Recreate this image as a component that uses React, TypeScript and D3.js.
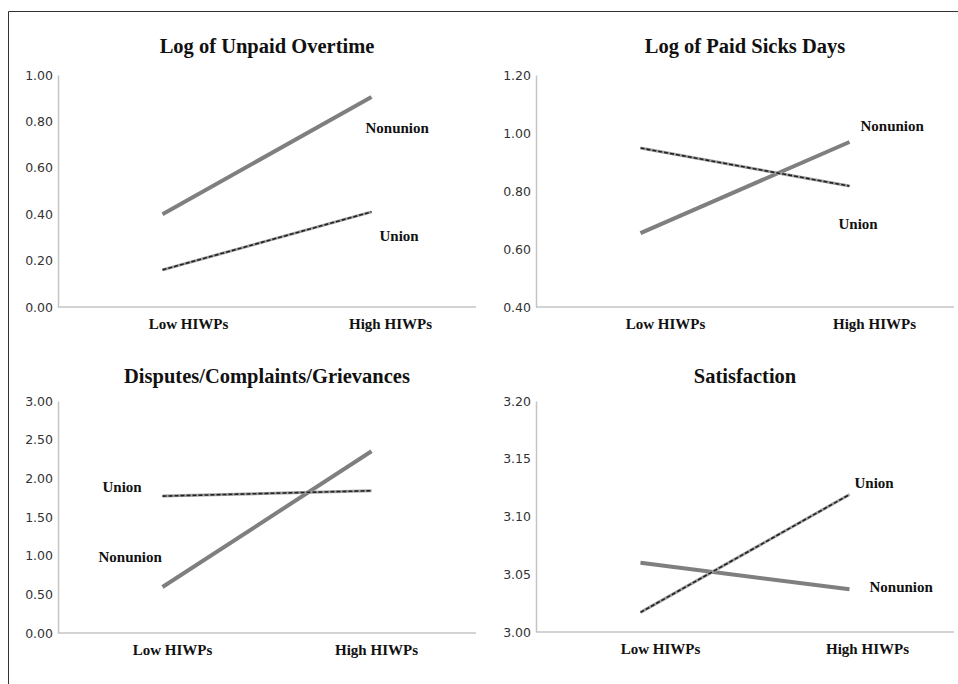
import { useRef, useEffect } from 'react';
import * as d3 from 'd3';

const categories = ['Low HIWPs', 'High HIWPs'];

// values
const unpaidNonunion = [0.4, 0.905];
const unpaidUnion = [0.16, 0.41];
const sickNonunion = [0.655, 0.969];
const sickUnion = [0.948, 0.817];
const disputeNonunion = [0.595, 2.35];
const disputeUnion = [1.77, 1.84];
const satisNonunion = [3.06, 3.037];
const satisUnion = [3.017, 3.119];

const unpaidTicks = [0, 0.2, 0.4, 0.6, 0.8, 1.0];
const sickTicks = [0.4, 0.6, 0.8, 1.0, 1.2];
const disputeTicks = [0, 0.5, 1.0, 1.5, 2.0, 2.5, 3.0];
const satisTicks = [3.0, 3.05, 3.1, 3.15, 3.2];

const titles = [
  'Log of Unpaid Overtime',
  'Log of Paid Sicks Days',
  'Disputes/Complaints/Grievances',
  'Satisfaction',
];

const panels = [
  {
    title: titles[0], nonunion: unpaidNonunion, union: unpaidUnion, ticks: unpaidTicks,
    ox: 0, oy: 0, top: 75, bottom: 307, catOff: [26, 19],
    nonLab: { i: 1, dx: -6, dy: 31 }, uniLab: { i: 1, dx: 8, dy: 24 },
  },
  {
    title: titles[1], nonunion: sickNonunion, union: sickUnion, ticks: sickTicks,
    ox: 478, oy: 0, top: 75, bottom: 307, catOff: [25, 25],
    nonLab: { i: 1, dx: 11, dy: -16 }, uniLab: { i: 1, dx: -11, dy: 38 },
  },
  {
    title: titles[2], nonunion: disputeNonunion, union: disputeUnion, ticks: disputeTicks,
    ox: 0, oy: 330, top: 71, bottom: 303, catOff: [10, 5],
    nonLab: { i: 0, dx: -64, dy: -30 }, uniLab: { i: 0, dx: -60, dy: -9 },
  },
  {
    title: titles[3], nonunion: satisNonunion, union: satisUnion, ticks: satisTicks,
    ox: 478, oy: 330, top: 71, bottom: 302, catOff: [20, 18],
    nonLab: { i: 1, dx: 20, dy: -3 }, uniLab: { i: 1, dx: 5, dy: -12 },
  },
];

const width = 958;
const height = 684;
const axisLeft = 58;
const axisRight = 476;
const serif = '"Liberation Serif", "Times New Roman", serif';
const sans = '"DejaVu Sans", Verdana, sans-serif';

const App = () => {
  const ref = useRef(null);

  useEffect(() => {
    const svg = d3.select(ref.current);
    svg.selectAll('*').remove();

    // frame (top and left edges)
    svg.append('path')
      .attr('d', `M8.5,${height} V11.5 H${width}`)
      .attr('fill', 'none')
      .attr('stroke', '#333')
      .attr('stroke-width', 1);

    panels.forEach((p) => {
      const g = svg.append('g').attr('transform', `translate(${p.ox},${p.oy})`);

      const x = d3.scalePoint().domain(categories).range([axisLeft, axisRight]).padding(0.5);
      const y = d3
        .scaleLinear()
        .domain([p.ticks[0], p.ticks[p.ticks.length - 1]])
        .range([p.bottom, p.top]);

      g.append('text')
        .text(p.title)
        .attr('x', (axisLeft + axisRight) / 2)
        .attr('y', 46)
        .attr('dy', '0.35em')
        .attr('text-anchor', 'middle')
        .attr('font-family', serif)
        .attr('font-weight', 'bold')
        .attr('font-size', 20.5)
        .attr('fill', '#111');

      // y axis
      const yAxis = g.append('g')
        .attr('transform', `translate(${axisLeft},0)`)
        .call(d3.axisLeft(y).tickValues(p.ticks).tickSize(0).tickPadding(5).tickFormat(d3.format('.2f')));
      yAxis.select('.domain').attr('stroke', '#c4c4c4').attr('stroke-width', 1.5);
      yAxis.selectAll('text')
        .attr('font-family', sans)
        .attr('font-size', 12.5)
        .attr('fill', '#333');

      // x axis line
      g.append('line')
        .attr('x1', axisLeft)
        .attr('x2', axisRight)
        .attr('y1', p.bottom)
        .attr('y2', p.bottom)
        .attr('stroke', '#c4c4c4')
        .attr('stroke-width', 1.5);

      g.selectAll('.cat')
        .data(categories)
        .enter()
        .append('text')
        .text((d) => d)
        .attr('x', (d, i) => x(d) + p.catOff[i])
        .attr('y', p.bottom + 17)
        .attr('dy', '0.35em')
        .attr('text-anchor', 'middle')
        .attr('font-family', serif)
        .attr('font-weight', 'bold')
        .attr('font-size', 15)
        .attr('fill', '#111');

      const line = d3
        .line<number>()
        .x((d, i) => x(categories[i]))
        .y((d) => y(d));

      g.append('path')
        .attr('d', line(p.nonunion))
        .attr('fill', 'none')
        .attr('stroke', '#7f7f7f')
        .attr('stroke-width', 4);

      g.append('path')
        .attr('d', line(p.union))
        .attr('fill', 'none')
        .attr('stroke', '#a0a0a0')
        .attr('stroke-width', 3);
      g.append('path')
        .attr('d', line(p.union))
        .attr('fill', 'none')
        .attr('stroke', '#222')
        .attr('stroke-width', 1.6)
        .attr('stroke-dasharray', '4,2');

      const labels = [
        { text: 'Nonunion', vals: p.nonunion, pos: p.nonLab },
        { text: 'Union', vals: p.union, pos: p.uniLab },
      ];
      labels.forEach((l) => {
        g.append('text')
          .text(l.text)
          .attr('x', x(categories[l.pos.i]) + l.pos.dx)
          .attr('y', y(l.vals[l.pos.i]) + l.pos.dy)
          .attr('dy', '0.35em')
          .attr('font-family', serif)
          .attr('font-weight', 'bold')
          .attr('font-size', 15)
          .attr('fill', '#111');
      });
    });
  }, []);

  return (
    <svg
      ref={ref}
      width={width}
      height={height}
      style={{ position: 'absolute', left: 0, top: 0, background: '#fff' }}
    ></svg>
  );
};

export default App;
